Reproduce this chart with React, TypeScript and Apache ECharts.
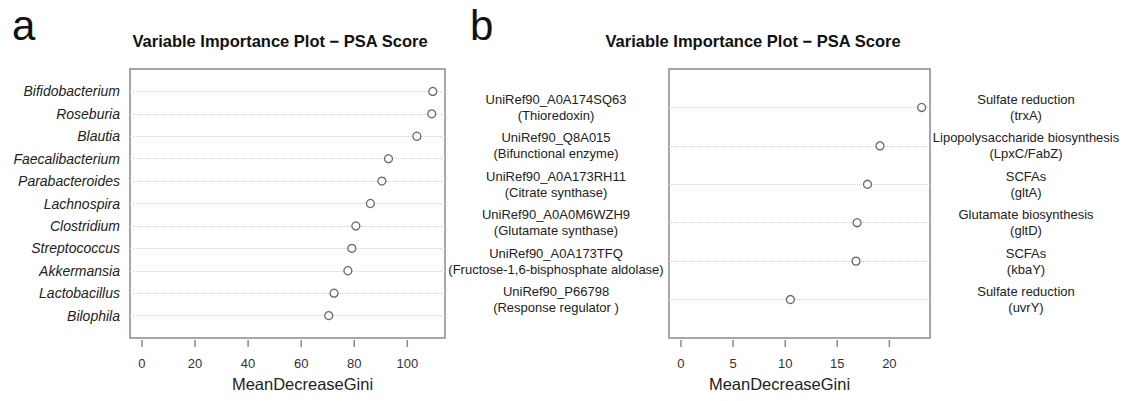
import React, { useEffect, useRef } from "react";
import * as echarts from "echarts";

const generaLabels = [
  "Bifidobacterium",
  "Roseburia",
  "Blautia",
  "Faecalibacterium",
  "Parabacteroides",
  "Lachnospira",
  "Clostridium",
  "Streptococcus",
  "Akkermansia",
  "Lactobacillus",
  "Bilophila",
];
const generaValues = [109.6, 109.2, 103.6, 92.9, 90.4, 86.1, 80.6, 79.1, 77.6, 72.4, 70.4];
const ticksA = [0, 20, 40, 60, 80, 100];

const geneLabels = [
  "UniRef90_A0A174SQ63\n(Thioredoxin)",
  "UniRef90_Q8A015\n(Bifunctional enzyme)",
  "UniRef90_A0A173RH11\n(Citrate synthase)",
  "UniRef90_A0A0M6WZH9\n(Glutamate synthase)",
  "UniRef90_A0A173TFQ\n(Fructose-1,6-bisphosphate aldolase)",
  "UniRef90_P66798\n(Response regulator )",
];
const geneFunctions = [
  "Sulfate reduction\n(trxA)",
  "Lipopolysaccharide biosynthesis\n(LpxC/FabZ)",
  "SCFAs\n(gltA)",
  "Glutamate biosynthesis\n(gltD)",
  "SCFAs\n(kbaY)",
  "Sulfate reduction\n(uvrY)",
];
const geneValues = [23.1, 19.1, 17.9, 16.9, 16.8, 10.5];
const ticksB = [0, 5, 10, 15, 20];

const titleText = "Variable Importance Plot \u2212 PSA Score";
const xName = "MeanDecreaseGini";

const FONT = "'Liberation Sans', Arial, Helvetica, sans-serif";

const rowPos = (i: number, n: number) => n - i;
const labelAt = (labels: string[], v: number) => labels[labels.length - Math.round(v)] ?? "";

export default function App() {
  const ref = useRef<HTMLDivElement>(null);
  useEffect(() => {
    if (!ref.current) return;
    const chart = echarts.init(ref.current, undefined, { renderer: "svg" });
    const nA = generaLabels.length;
    const nB = geneLabels.length;
    const rowsA = generaLabels.map((_, i) => rowPos(i, nA));
    const rowsB = geneLabels.map((_, i) => rowPos(i, nB));

    // hidden x axes of the boxes (they carry the scale of the points)
    const dataXAxis = (gridIndex: number, min: number, max: number) => ({
      type: "value" as const,
      gridIndex,
      min,
      max,
      show: false,
      splitLine: { show: false },
    });

    // x axes of the thin strips under the boxes: labels and axis title
    const tickXAxis = (
      gridIndex: number,
      min: number,
      max: number,
      ticks: number[],
      namePadding: number[]
    ) => ({
      type: "value" as const,
      gridIndex,
      min,
      max,
      position: "bottom" as const,
      axisLine: { show: false, onZero: false },
      axisTick: { show: false },
      splitLine: { show: false },
      axisLabel: {
        customValues: ticks,
        margin: 10,
        fontSize: 13,
        color: "#333",
        fontFamily: FONT,
      },
      name: xName,
      nameLocation: "middle" as const,
      nameGap: 28.5,
      nameTextStyle: {
        fontSize: 16.5,
        color: "#222",
        fontFamily: FONT,
        padding: namePadding,
      },
    });

    const stripYAxis = (gridIndex: number) => ({
      type: "value" as const,
      gridIndex,
      min: 0,
      max: 1,
      show: false,
      splitLine: { show: false },
    });

    const dotted = (rows: number[]) => ({
      silent: true,
      symbol: ["none", "none"],
      label: { show: false },
      z: 1,
      lineStyle: { type: "dotted" as const, color: "#d2d2d2", width: 1 },
      data: rows.map((r) => ({ yAxis: r })),
    });

    // one short vertical line per tick value, filling the strip under the box
    const tickLines = (ticks: number[], axisIndex: number) =>
      ticks.map((t) => ({
        type: "line" as const,
        xAxisIndex: axisIndex,
        yAxisIndex: axisIndex === 2 ? 3 : 4,
        silent: true,
        symbol: "none",
        lineStyle: { color: "#8a8a8a", width: 1.5 },
        data: [
          [t, 0],
          [t, 1],
        ],
      }));

    const symbolStyle = {
      color: "#ffffff",
      borderColor: "#444",
      borderWidth: 1.3,
    };

    const titleStyle = {
      font: `bold 16.5px ${FONT}`,
      fill: "#111",
      align: "center",
      verticalAlign: "middle",
    };

    const boxStyle = {
      show: true,
      borderColor: "#8a8a8a",
      borderWidth: 1.5,
      backgroundColor: "transparent",
    };

    chart.setOption({
      animation: false,
      backgroundColor: "#ffffff",
      textStyle: { fontFamily: FONT },
      graphic: [
        {
          type: "text",
          x: 12,
          y: 25,
          style: { text: "a", font: `42px ${FONT}`, fill: "#111", verticalAlign: "middle" },
        },
        {
          type: "text",
          x: 470,
          y: 25,
          style: { text: "b", font: `42px ${FONT}`, fill: "#111", verticalAlign: "middle" },
        },
        { type: "text", x: 280, y: 40.5, style: { text: titleText, ...titleStyle } },
        { type: "text", x: 753, y: 40.5, style: { text: titleText, ...titleStyle } },
      ],
      grid: [
        { left: 130, top: 69, width: 315, height: 269, ...boxStyle },
        { left: 669, top: 69, width: 261, height: 269, ...boxStyle },
        { left: 130, top: 340, width: 315, height: 7, show: false },
        { left: 669, top: 340, width: 261, height: 7, show: false },
      ],
      xAxis: [
        dataXAxis(0, -4.5, 114.2),
        dataXAxis(1, -1.15, 23.9),
        tickXAxis(2, -4.5, 114.2, ticksA, [0, 0, 0, 30]),
        tickXAxis(3, -1.15, 23.9, ticksB, [0, 40, 0, 0]),
      ],
      yAxis: [
        {
          type: "value",
          gridIndex: 0,
          min: 0,
          max: nA + 1,
          axisLine: { show: false, onZero: false },
          axisTick: { show: false },
          splitLine: { show: false },
          axisLabel: {
            customValues: rowsA,
            formatter: (v: number) => labelAt(generaLabels, v),
            margin: 10,
            fontSize: 14,
            fontStyle: "italic",
            color: "#222",
            fontFamily: FONT,
          },
        },
        {
          type: "value",
          gridIndex: 1,
          min: 0,
          max: nB + 1,
          axisLine: { show: false, onZero: false },
          axisTick: { show: false },
          splitLine: { show: false },
          axisLabel: {
            customValues: rowsB,
            formatter: (v: number) => labelAt(geneLabels, v),
            margin: 113,
            align: "center",
            fontSize: 13,
            lineHeight: 16,
            padding: [0, 0, 5, 0],
            color: "#222",
            fontFamily: FONT,
          },
        },
        {
          type: "value",
          gridIndex: 1,
          position: "right",
          min: 0,
          max: nB + 1,
          axisLine: { show: false, onZero: false },
          axisTick: { show: false },
          splitLine: { show: false },
          axisLabel: {
            customValues: rowsB,
            formatter: (v: number) => labelAt(geneFunctions, v),
            margin: 96,
            align: "center",
            fontSize: 13,
            lineHeight: 16,
            padding: [0, 0, 5, 0],
            color: "#222",
            fontFamily: FONT,
          },
        },
        stripYAxis(2),
        stripYAxis(3),
      ],
      series: [
        {
          type: "scatter",
          xAxisIndex: 0,
          yAxisIndex: 0,
          symbol: "circle",
          symbolSize: 8,
          z: 3,
          itemStyle: symbolStyle,
          data: generaValues.map((v, i) => [v, rowPos(i, nA)]),
          markLine: dotted(rowsA),
        },
        {
          type: "scatter",
          xAxisIndex: 1,
          yAxisIndex: 1,
          symbol: "circle",
          symbolSize: 8,
          z: 3,
          itemStyle: symbolStyle,
          data: geneValues.map((v, i) => [v, rowPos(i, nB)]),
          markLine: dotted(rowsB),
        },
        ...tickLines(ticksA, 2),
        ...tickLines(ticksB, 3),
      ],
    });
    return () => chart.dispose();
  }, []);
  return (
    <div
      ref={ref}
      style={{ position: "absolute", left: 0, top: 0, width: 1126, height: 401 }}
    />
  );
}
